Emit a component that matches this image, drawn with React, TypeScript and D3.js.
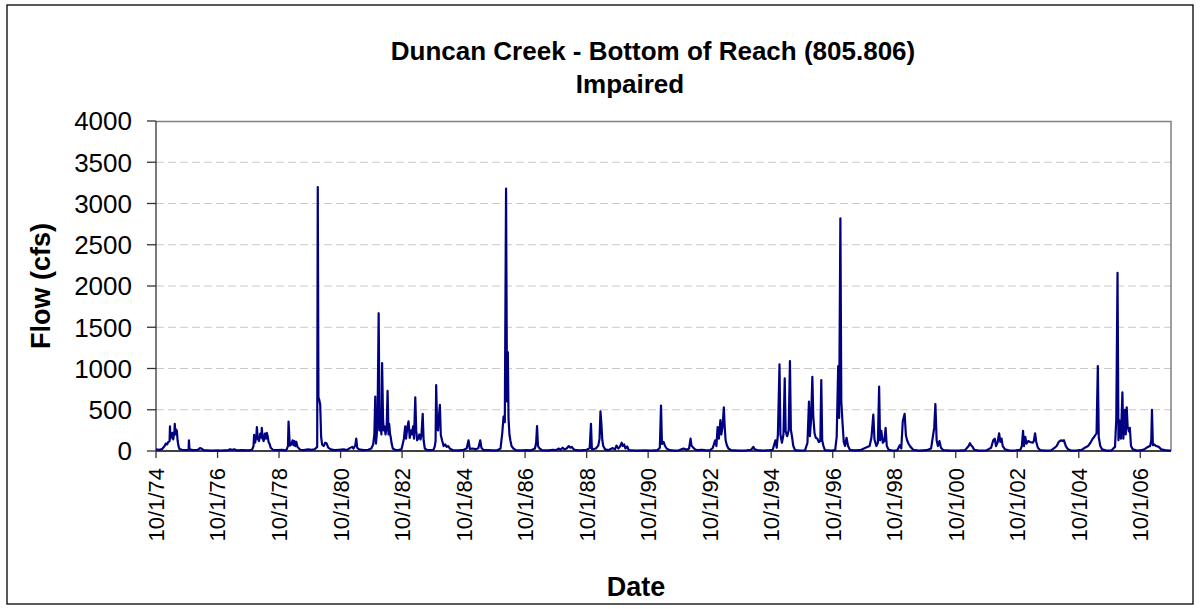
import React, { useEffect, useRef } from "react";
import * as d3 from "d3";

// chart text
const titleLines = ["Duncan Creek - Bottom of Reach (805.806)", "Impaired"];
const yTitle = "Flow (cfs)";
const xTitle = "Date";

const yTicks = [0, 500, 1000, 1500, 2000, 2500, 3000, 3500, 4000];
const xTickLabels = [
  "10/1/74", "10/1/76", "10/1/78", "10/1/80", "10/1/82", "10/1/84",
  "10/1/86", "10/1/88", "10/1/90", "10/1/92", "10/1/94", "10/1/96",
  "10/1/98", "10/1/00", "10/1/02", "10/1/04", "10/1/06",
];

const startDate = "10/1/74";
const endDate = "10/1/07";

// [years since 10/1/74, flow in cfs]
const flow: [number, number][] = [
  [0.0, 20], [0.1, 15], [0.2, 25], [0.28, 60], [0.32, 90], [0.36, 80], [0.4, 110],
  [0.44, 120], [0.455, 300], [0.47, 150], [0.5, 180], [0.53, 220], [0.56, 140],
  [0.6, 250], [0.61, 330], [0.63, 200], [0.66, 260], [0.68, 240], [0.7, 130],
  [0.73, 60], [0.76, 25], [0.85, 15], [1.0, 10], [1.06, 15], [1.07, 130], [1.09, 20],
  [1.2, 10], [1.35, 12], [1.43, 35], [1.48, 30], [1.55, 10], [1.8, 5], [2.0, 8],
  [2.1, 5], [2.35, 10], [2.4, 20], [2.48, 15], [2.55, 20], [2.62, 8], [2.8, 10],
  [3.0, 8], [3.12, 15], [3.17, 60], [3.19, 195], [3.22, 100], [3.26, 170],
  [3.28, 290], [3.31, 150], [3.35, 120], [3.39, 210], [3.43, 160], [3.44, 280],
  [3.47, 150], [3.5, 120], [3.54, 210], [3.58, 150], [3.6, 220], [3.63, 180],
  [3.66, 110], [3.7, 80], [3.73, 40], [3.8, 15], [3.95, 10], [4.1, 15], [4.2, 8],
  [4.25, 20], [4.29, 60], [4.31, 357], [4.33, 200], [4.35, 65], [4.4, 80],
  [4.44, 130], [4.47, 70], [4.5, 120], [4.53, 60], [4.56, 110], [4.6, 50],
  [4.65, 30], [4.69, 15], [4.8, 10], [4.95, 20], [5.05, 15], [5.15, 20], [5.2, 35],
  [5.24, 50], [5.26, 3200], [5.28, 650], [5.31, 620], [5.34, 560], [5.37, 170],
  [5.4, 80], [5.45, 60], [5.5, 100], [5.55, 90], [5.6, 40], [5.68, 20], [5.8, 10],
  [5.95, 15], [6.1, 20], [6.2, 10], [6.3, 35], [6.38, 50], [6.42, 30], [6.48, 70],
  [6.51, 150], [6.54, 40], [6.6, 20], [6.75, 10], [6.9, 15], [7.0, 30], [7.06, 80],
  [7.1, 200], [7.13, 660], [7.15, 90], [7.2, 300], [7.24, 1670], [7.27, 250],
  [7.3, 350], [7.33, 200], [7.35, 1065], [7.38, 400], [7.4, 250], [7.43, 300],
  [7.46, 200], [7.5, 280], [7.53, 730], [7.56, 200], [7.58, 330], [7.61, 200],
  [7.63, 170], [7.66, 90], [7.7, 30], [7.8, 10], [7.9, 15], [7.98, 20], [8.02, 80],
  [8.06, 150], [8.1, 300], [8.13, 150], [8.17, 280], [8.21, 360], [8.25, 160],
  [8.29, 250], [8.32, 200], [8.36, 300], [8.39, 150], [8.43, 650], [8.46, 250],
  [8.49, 130], [8.52, 150], [8.56, 200], [8.6, 140], [8.63, 190], [8.67, 450],
  [8.7, 130], [8.74, 30], [8.8, 15], [8.9, 10], [9.02, 15], [9.06, 50], [9.09, 120],
  [9.11, 800], [9.14, 300], [9.17, 250], [9.2, 420], [9.23, 560], [9.26, 195],
  [9.3, 130], [9.35, 60], [9.4, 80], [9.45, 50], [9.5, 60], [9.55, 30], [9.65, 10],
  [9.85, 8], [10.0, 15], [10.1, 30], [10.16, 130], [10.2, 25], [10.3, 30],
  [10.4, 20], [10.48, 35], [10.54, 130], [10.58, 40], [10.65, 10], [10.8, 12],
  [10.95, 8], [11.1, 10], [11.2, 30], [11.26, 230], [11.3, 416], [11.34, 350],
  [11.38, 3180], [11.41, 600], [11.44, 1200], [11.46, 400], [11.49, 200],
  [11.52, 130], [11.56, 60], [11.62, 30], [11.7, 10], [11.9, 8], [12.05, 10],
  [12.2, 8], [12.32, 30], [12.36, 100], [12.39, 303], [12.42, 60], [12.47, 30],
  [12.55, 10], [12.75, 8], [12.9, 15], [13.0, 10], [13.1, 30], [13.15, 15],
  [13.22, 40], [13.28, 20], [13.35, 30], [13.42, 60], [13.47, 40], [13.52, 50],
  [13.58, 20], [13.65, 10], [13.8, 8], [14.0, 15], [14.1, 35], [14.14, 330],
  [14.17, 20], [14.3, 30], [14.38, 65], [14.42, 150], [14.45, 480], [14.48, 325],
  [14.51, 130], [14.54, 60], [14.6, 20], [14.7, 10], [14.85, 35], [14.92, 20],
  [14.97, 65], [15.03, 30], [15.08, 50], [15.14, 100], [15.17, 60], [15.22, 80],
  [15.26, 30], [15.32, 55], [15.37, 10], [15.6, 5], [15.9, 8], [16.1, 5],
  [16.3, 10], [16.38, 40], [16.42, 550], [16.45, 85], [16.5, 110], [16.55, 60],
  [16.6, 30], [16.7, 10], [16.85, 5], [17.0, 8], [17.15, 30], [17.25, 15],
  [17.33, 30], [17.38, 150], [17.41, 65], [17.47, 40], [17.52, 20], [17.6, 10],
  [17.75, 15], [17.85, 10], [18.0, 8], [18.1, 35], [18.18, 130], [18.22, 60],
  [18.26, 290], [18.3, 150], [18.35, 375], [18.38, 200], [18.42, 300], [18.46, 530],
  [18.49, 300], [18.52, 130], [18.56, 70], [18.61, 30], [18.7, 10], [18.95, 5],
  [19.2, 8], [19.35, 15], [19.42, 50], [19.46, 20], [19.55, 10], [19.75, 5],
  [19.95, 10], [20.05, 15], [20.14, 130], [20.18, 40], [20.22, 200], [20.27, 1050],
  [20.3, 200], [20.35, 100], [20.4, 200], [20.44, 880], [20.47, 240], [20.52, 180],
  [20.57, 250], [20.61, 1090], [20.64, 260], [20.68, 170], [20.72, 60], [20.78, 10],
  [20.95, 5], [21.1, 8], [21.18, 100], [21.23, 600], [21.26, 180], [21.3, 400],
  [21.34, 900], [21.37, 420], [21.41, 215], [21.45, 160], [21.5, 150], [21.55, 110],
  [21.6, 120], [21.63, 860], [21.66, 130], [21.7, 60], [21.75, 10], [21.95, 5],
  [22.08, 10], [22.13, 170], [22.18, 1030], [22.21, 400], [22.25, 2820], [22.28, 600],
  [22.32, 345], [22.36, 110], [22.4, 60], [22.45, 160], [22.5, 60], [22.56, 15],
  [22.7, 8], [22.9, 10], [23.05, 35], [23.2, 60], [23.26, 164], [23.32, 440],
  [23.36, 140], [23.42, 60], [23.47, 100], [23.51, 780], [23.54, 130], [23.58, 245],
  [23.63, 100], [23.68, 120], [23.72, 280], [23.76, 60], [23.82, 15], [23.95, 5],
  [24.1, 8], [24.18, 70], [24.23, 30], [24.28, 360], [24.34, 450], [24.38, 190],
  [24.42, 130], [24.47, 85], [24.53, 50], [24.62, 15], [24.8, 5], [25.05, 10],
  [25.2, 30], [25.3, 280], [25.34, 570], [25.38, 130], [25.42, 60], [25.47, 120],
  [25.52, 40], [25.6, 10], [25.85, 5], [26.1, 5], [26.3, 10], [26.42, 60],
  [26.46, 95], [26.5, 70], [26.55, 50], [26.6, 15], [26.75, 5], [27.0, 8],
  [27.15, 40], [27.22, 130], [27.27, 150], [27.31, 60], [27.36, 100], [27.41, 215],
  [27.45, 110], [27.49, 150], [27.53, 60], [27.6, 20], [27.75, 5], [27.95, 8],
  [28.1, 15], [28.15, 60], [28.19, 245], [28.22, 60], [28.26, 172], [28.3, 90],
  [28.36, 120], [28.42, 110], [28.5, 100], [28.54, 120], [28.58, 215], [28.62, 110],
  [28.67, 40], [28.75, 10], [28.9, 5], [29.1, 8], [29.22, 40], [29.28, 60],
  [29.35, 110], [29.42, 130], [29.48, 120], [29.52, 130], [29.58, 60], [29.65, 20],
  [29.75, 5], [29.9, 5], [30.1, 15], [30.2, 40], [30.3, 60], [30.38, 100],
  [30.44, 140], [30.5, 170], [30.54, 194], [30.58, 215], [30.62, 1030], [30.65, 170],
  [30.7, 60], [30.76, 20], [30.9, 5], [31.05, 5], [31.1, 20], [31.18, 50],
  [31.22, 380], [31.26, 2160], [31.29, 130], [31.33, 370], [31.37, 150], [31.42, 710],
  [31.45, 150], [31.5, 500], [31.53, 200], [31.56, 530], [31.59, 300], [31.63, 237],
  [31.66, 280], [31.7, 60], [31.76, 20], [31.9, 5], [32.05, 10], [32.15, 25],
  [32.25, 50], [32.32, 60], [32.36, 130], [32.38, 500], [32.41, 70], [32.45, 80],
  [32.52, 60], [32.6, 50], [32.68, 20], [32.8, 10], [32.95, 5], [33.0, 5],
];

const FONT = "'Liberation Sans', Arial, sans-serif";

const App: React.FC = () => {
  const ref = useRef<SVGSVGElement | null>(null);
  const width = 1200;
  const height = 609;

  useEffect(() => {
    const svg = d3.select(ref.current);
    svg.selectAll("*").remove();

    const margin = { top: 121, right: 29, bottom: 158, left: 156 };
    const w = width - margin.left - margin.right;
    const h = height - margin.top - margin.bottom;

    const parse = d3.timeParse("%m/%d/%y");
    const start = parse(startDate) as Date;
    const end = parse(endDate) as Date;
    const toDate = (t: number) => d3.timeDay.offset(start, Math.round(t * 365.25));

    // outer chart border
    svg
      .append("rect")
      .attr("x", 7)
      .attr("y", 5)
      .attr("width", 1186)
      .attr("height", 599)
      .attr("fill", "#fff")
      .attr("stroke", "#000")
      .attr("stroke-width", 1.3);

    // titles (the two lines sit slightly off each other in the original)
    const titleX = [653, 630];
    titleLines.forEach((t, i) => {
      svg
        .append("text")
        .attr("x", titleX[i])
        .attr("y", 60 + i * 33)
        .attr("text-anchor", "middle")
        .style("font-family", FONT)
        .style("font-weight", "bold")
        .style("font-size", "26px")
        .text(t);
    });

    const g = svg
      .append("g")
      .attr("transform", `translate(${margin.left},${margin.top})`);

    const x = d3.scaleTime().domain([start, end]).range([0, w]);
    const y = d3.scaleLinear().domain([0, 4000]).range([h, 0]);

    // gridlines
    g.selectAll(".grid")
      .data(yTicks.filter((v) => v > 0 && v < 4000))
      .enter()
      .append("line")
      .attr("x1", 0)
      .attr("x2", w)
      .attr("y1", (d) => y(d))
      .attr("y2", (d) => y(d))
      .attr("stroke", "#c8c8c8")
      .attr("stroke-width", 1)
      .attr("stroke-dasharray", "8,4");

    // plot area border (top, right)
    g.append("path")
      .attr("d", `M0,${y(4000) + 0.5}H${w}V${h}`)
      .attr("fill", "none")
      .attr("stroke", "#808080")
      .attr("stroke-width", 1.5);

    // y axis
    const yAxis = g.append("g");
    yAxis
      .append("line")
      .attr("x1", 0)
      .attr("x2", 0)
      .attr("y1", 0)
      .attr("y2", h)
      .attr("stroke", "#333")
      .attr("stroke-width", 1.3);
    yTicks.forEach((v) => {
      yAxis
        .append("line")
        .attr("x1", -9)
        .attr("x2", 0)
        .attr("y1", y(v))
        .attr("y2", y(v))
        .attr("stroke", "#333")
        .attr("stroke-width", 1.3);
      yAxis
        .append("text")
        .attr("x", -24)
        .attr("y", y(v))
        .attr("dy", "0.36em")
        .attr("text-anchor", "end")
        .style("font-family", FONT)
        .style("font-size", "26px")
        .text(v.toString());
    });

    // x axis
    const xAxis = g.append("g").attr("transform", `translate(0,${h})`);
    xAxis
      .append("line")
      .attr("x1", 0)
      .attr("x2", w)
      .attr("y1", 0)
      .attr("y2", 0)
      .attr("stroke", "#000")
      .attr("stroke-width", 1.5);
    xTickLabels.forEach((lab) => {
      const xp = x(parse(lab) as Date);
      xAxis
        .append("line")
        .attr("x1", xp)
        .attr("x2", xp)
        .attr("y1", 0)
        .attr("y2", 7)
        .attr("stroke", "#333")
        .attr("stroke-width", 1.3);
      xAxis
        .append("text")
        .attr("transform", `translate(${xp},17) rotate(-90)`)
        .attr("dy", "0.36em")
        .attr("text-anchor", "end")
        .style("font-family", FONT)
        .style("font-size", "22px")
        .text(lab);
    });

    // flow line, drawn over the axis like the original
    const line = d3
      .line<[number, number]>()
      .x((d) => x(toDate(d[0])))
      .y((d) => y(d[1]));

    g.append("path")
      .datum(flow)
      .attr("d", line)
      .attr("fill", "none")
      .attr("stroke", "#000080")
      .attr("stroke-width", 2.2)
      .attr("stroke-linejoin", "round");

    // axis titles
    svg
      .append("text")
      .attr("transform", `translate(40,286) rotate(-90)`)
      .attr("dy", "0.36em")
      .attr("text-anchor", "middle")
      .style("font-family", FONT)
      .style("font-weight", "bold")
      .style("font-size", "27px")
      .text(yTitle);

    svg
      .append("text")
      .attr("x", 636)
      .attr("y", 596)
      .attr("text-anchor", "middle")
      .style("font-family", FONT)
      .style("font-weight", "bold")
      .style("font-size", "27px")
      .text(xTitle);
  }, []);

  return (
    <svg
      ref={ref}
      width={width}
      height={height}
      style={{ position: "absolute", left: 0, top: 0, background: "#fff" }}
    />
  );
};

export default App;
